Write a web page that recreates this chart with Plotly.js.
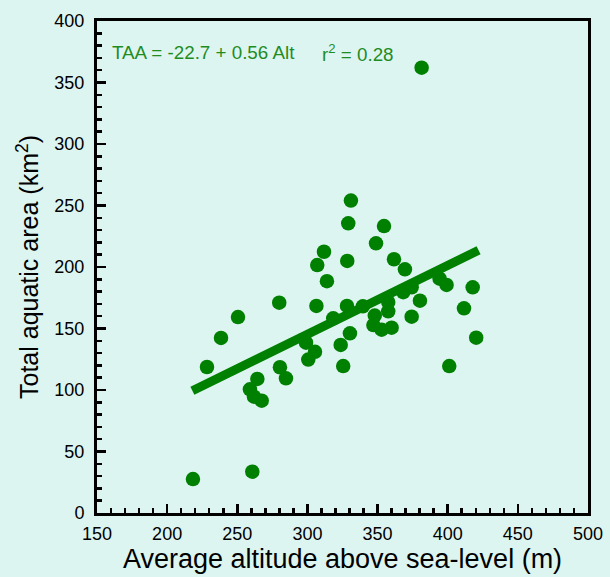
<!DOCTYPE html>
<html>
<head>
<meta charset="utf-8">
<script src="https://cdn.plot.ly/plotly-3.0.1.min.js"></script>
<style>
html,body{margin:0;padding:0;background:#ddf5f1;}
#chart{width:610px;height:577px;}
</style>
</head>
<body>
<div id="chart"></div>
<script>
// Average altitude above sea-level (m)
const altitude = [218.4, 228.4, 238.4, 250.5, 259.0, 260.7, 261.9, 264.3, 267.4, 279.9,
  280.4, 284.7, 299.0, 300.6, 305.4, 306.4, 307.0, 311.8, 313.9, 318.4,
  323.7, 325.5, 328.2, 328.4, 329.1, 330.3, 331.0, 339.5, 347.0, 348.0,
  348.9, 352.9, 354.6, 357.6, 357.6, 360.0, 361.7, 368.3, 369.5, 374.3,
  374.3, 380.2, 381.4, 394.2, 399.2, 401.1, 411.6, 417.8, 420.3];
// Total aquatic area (km2)
const aquaticArea = [27.6, 118.7, 142.3, 159.3, 100.6, 33.6, 94.6, 109.0, 91.3, 171.0,
  118.5, 109.5, 138.5, 124.7, 131.0, 168.3, 201.6, 212.4, 188.5, 158.3,
  136.6, 119.5, 168.3, 204.9, 235.5, 146.1, 254.0, 168.0, 152.8, 160.5,
  219.3, 149.0, 233.3, 164.0, 171.5, 150.7, 206.3, 179.5, 198.1, 159.6,
  183.5, 172.6, 362.0, 190.5, 185.4, 119.5, 166.4, 183.5, 142.5];
// Regression line endpoints (TAA = -22.7 + 0.56 Alt)
const fitX = [218, 422];
const fitY = [99.4, 213.6];

const xTicks = [150, 200, 250, 300, 350, 400, 450, 500];
const yTicks = [0, 50, 100, 150, 200, 250, 300, 350, 400];

const green = '#008000';
const textGreen = '#1f8c1f';
const bg = '#ddf5f1';

const traces = [
  {x: fitX, y: fitY, mode: 'lines', type: 'scatter',
   line: {color: green, width: 9}, hoverinfo: 'skip', showlegend: false},
  {x: altitude, y: aquaticArea, mode: 'markers', type: 'scatter',
   marker: {color: green, size: 14.5, line: {width: 0}}, showlegend: false}
];

const axisCommon = {
  showgrid: false, zeroline: false,
  showline: true, linecolor: 'black', linewidth: 3, mirror: true,
  ticks: 'inside', ticklen: 9, tickwidth: 2.5, tickcolor: 'black',
  tickfont: {family: 'Liberation Sans, Arial, sans-serif', size: 18, color: 'black'},
  minor: {dtick: 10, ticks: 'inside', ticklen: 5, tickwidth: 2.5, tickcolor: 'black', showgrid: false}
};

const layout = {
  width: 610, height: 577,
  paper_bgcolor: bg, plot_bgcolor: bg,
  margin: {l: 97, r: 22, t: 21, b: 64},
  font: {family: 'Liberation Sans, Arial, sans-serif', color: 'black'},
  xaxis: Object.assign({}, axisCommon, {
    range: [150, 500], tickmode: 'array', tickvals: xTicks, ticktext: xTicks.map(String),
    ticklabelstandoff: 2,
    title: {text: 'Average altitude above sea-level (m)', font: {size: 27, color: 'black'}, standoff: 1}
  }),
  yaxis: Object.assign({}, axisCommon, {
    range: [0, 400], tickmode: 'array', tickvals: yTicks, ticktext: yTicks.map(String),
    ticklabelstandoff: 6,
    title: {text: 'Total aquatic area (km<sup>2</sup>)', font: {size: 25, color: 'black'}, standoff: 9}
  }),
  annotations: [
    {x: 159.4, y: 374, xref: 'x', yref: 'y', xanchor: 'left', yanchor: 'middle', showarrow: false,
     text: 'TAA = -22.7 + 0.56 Alt', font: {size: 18.8, color: textGreen}},
    {x: 309.1, y: 374, xref: 'x', yref: 'y', xanchor: 'left', yanchor: 'middle', showarrow: false,
     text: 'r<sup>2</sup> = 0.28', font: {size: 18.8, color: textGreen}}
  ]
};

Plotly.newPlot('chart', traces, layout, {displayModeBar: false, staticPlot: true});
</script>
</body>
</html>
